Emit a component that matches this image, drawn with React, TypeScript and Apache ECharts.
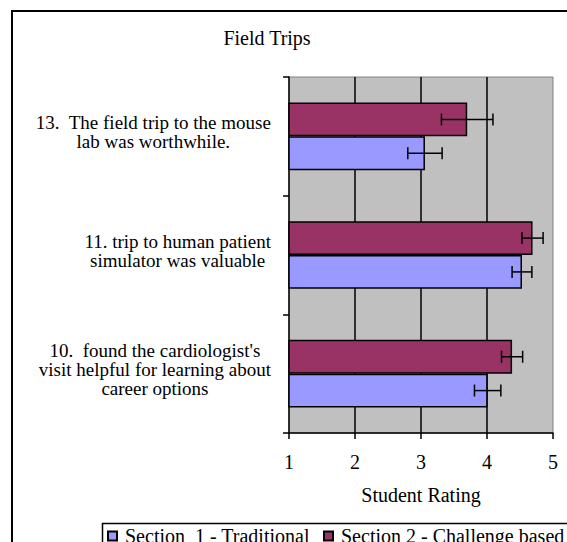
import React, { useEffect, useRef } from "react";
import * as echarts from "echarts";

const categories = [
  "10.  found the cardiologist's\nvisit helpful for learning about\ncareer options",
  "11. trip to human patient\nsimulator was valuable",
  "13.  The field trip to the mouse\nlab was worthwhile.",
];
const seriesNames = ["Section  1 - Traditional", "Section 2 - Challenge based"];
const section1Values = [4.01, 4.53, 3.06];
const section1Errors = [0.2, 0.15, 0.26];
const section2Values = [4.38, 4.69, 3.7];
const section2Errors = [0.16, 0.16, 0.39];
const xTicks = [1, 2, 3, 4, 5];
const titleText = "Field Trips";
const xAxisName = "Student Rating";

const FONT = "'Liberation Serif', 'Times New Roman', serif";
const FS = 20;
const CAT_GAP = 0.43;

function errorSeries(values: number[], errors: number[], sign: number) {
  const data = values.map((v, i) => [i, v - errors[i], v + errors[i]]);
  return {
    type: "custom",
    silent: true,
    z: 10,
    data,
    encode: { x: [1, 2], y: 0 },
    renderItem: (params: any, api: any) => {
      const cat = api.value(0);
      const lo = api.coord([api.value(1), cat]);
      const hi = api.coord([api.value(2), cat]);
      const band = api.size([0, 1])[1];
      const barH = (band * (1 - CAT_GAP)) / 2;
      const y = lo[1] + (sign * barH) / 2;
      const cap = 6;
      const style = { stroke: "#000", lineWidth: 1.5 };
      return {
        type: "group",
        children: [
          { type: "line", shape: { x1: lo[0], y1: y, x2: hi[0], y2: y }, style },
          { type: "line", shape: { x1: lo[0], y1: y - cap, x2: lo[0], y2: y + cap }, style },
          { type: "line", shape: { x1: hi[0], y1: y - cap, x2: hi[0], y2: y + cap }, style },
        ],
      };
    },
  };
}

const legendBase = {
  top: 523,
  orient: "horizontal",
  padding: [3, 5, 3, 5],
  itemWidth: 9,
  itemHeight: 9,
  icon: "rect",
  textStyle: { fontFamily: FONT, fontSize: FS, color: "#000", padding: [0, 0, 0, 3] },
};

export default function App() {
  const ref = useRef<HTMLDivElement>(null);
  useEffect(() => {
    if (!ref.current) return;
    const chart = echarts.init(ref.current, null, { renderer: "svg" });
    chart.setOption({
      animation: false,
      backgroundColor: "#fff",
      textStyle: { fontFamily: FONT, color: "#000" },
      graphic: [
        {
          type: "rect",
          shape: { x: 12, y: 11, width: 700, height: 700 },
          style: { fill: "none", stroke: "#000", lineWidth: 2 },
          silent: true,
        },
        {
          type: "rect",
          shape: { x: 102.5, y: 523.5, width: 600, height: 60 },
          style: { fill: "none", stroke: "#000", lineWidth: 1.5 },
          silent: true,
        },
        {
          type: "text",
          x: 267,
          y: 28,
          style: { text: titleText, font: `${FS}px ${FONT}`, fill: "#000", textAlign: "center" },
        },
      ],
      legend: [
        { ...legendBase, left: 102, data: [seriesNames[0]] },
        { ...legendBase, left: 318, data: [seriesNames[1]] },
      ],
      grid: {
        left: 289,
        top: 77,
        width: 264,
        height: 356,
        show: true,
        backgroundColor: "#c0c0c0",
        borderColor: "#808080",
        borderWidth: 1,
      },
      xAxis: {
        type: "value",
        min: xTicks[0],
        max: xTicks[xTicks.length - 1],
        interval: 1,
        name: xAxisName,
        nameLocation: "middle",
        nameGap: 52,
        nameTextStyle: { fontFamily: FONT, fontSize: FS, color: "#000" },
        axisLine: { show: true, lineStyle: { color: "#000", width: 1.5 } },
        axisTick: { show: true, length: 6, lineStyle: { color: "#000", width: 1.5 } },
        axisLabel: { fontFamily: FONT, fontSize: FS, color: "#000", margin: 19 },
        splitLine: { show: true, showMinLine: false, showMaxLine: false, lineStyle: { color: "#000", width: 1.5 } },
      },
      yAxis: {
        type: "category",
        data: categories,
        axisLine: { show: true, lineStyle: { color: "#000", width: 1.5 } },
        axisTick: { show: true, length: 6, lineStyle: { color: "#000", width: 1.5 } },
        axisLabel: {
          margin: 18,
          padding: [0, 0, 8, 0],
          formatter: (v: string) => v.split("\n").map((l) => `{c|${l}}`).join("\n"),
          rich: {
            c: { fontFamily: FONT, fontSize: 19, color: "#000", lineHeight: 19, align: "center" },
          },
        },
      },
      series: [
        {
          name: seriesNames[1],
          type: "bar",
          data: section2Values,
          barGap: "0%",
          barCategoryGap: `${CAT_GAP * 100}%`,
          itemStyle: { color: "#993366", borderColor: "#000", borderWidth: 1.5 },
        },
        {
          name: seriesNames[0],
          type: "bar",
          data: section1Values,
          barGap: "0%",
          barCategoryGap: `${CAT_GAP * 100}%`,
          itemStyle: { color: "#9999ff", borderColor: "#000", borderWidth: 1.5 },
        },
        errorSeries(section1Values, section1Errors, 1),
        errorSeries(section2Values, section2Errors, -1),
      ],
    });
    return () => chart.dispose();
  }, []);
  return (
    <div
      ref={ref}
      style={{ position: "fixed", left: 0, top: 0, width: 567, height: 542 }}
    />
  );
}
